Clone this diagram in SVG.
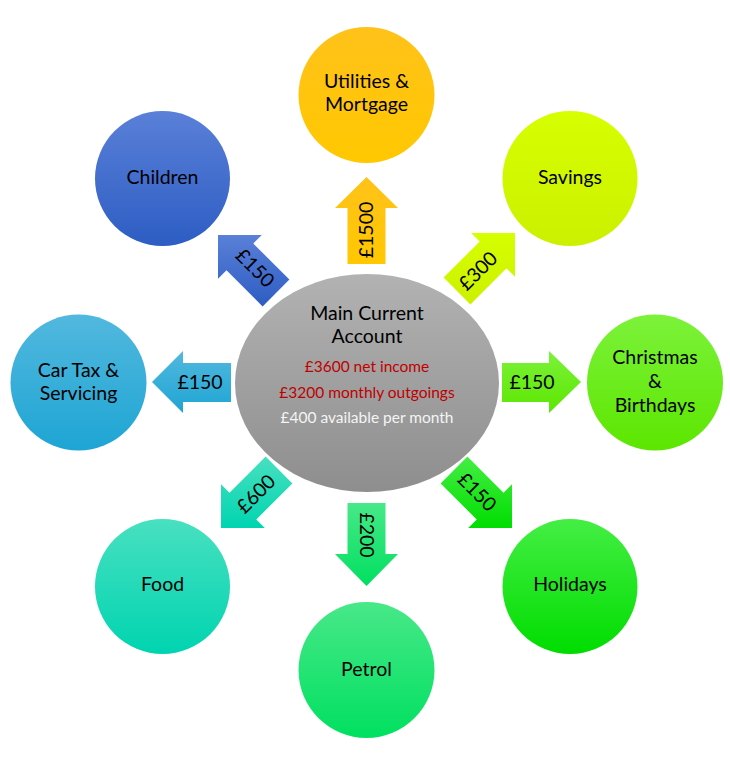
<svg xmlns="http://www.w3.org/2000/svg" width="730" height="760" viewBox="0 0 730 760">
<defs>
<linearGradient id="gUtil" x1="0" y1="0" x2="0" y2="1"><stop offset="0" stop-color="#FFC21A"/><stop offset="1" stop-color="#FFC800"/></linearGradient>
<linearGradient id="gChild" x1="0" y1="0" x2="0" y2="1"><stop offset="0" stop-color="#5A80D8"/><stop offset="1" stop-color="#2D5DC3"/></linearGradient>
<linearGradient id="gSave" x1="0" y1="0" x2="0" y2="1"><stop offset="0" stop-color="#D6FF00"/><stop offset="1" stop-color="#CCF000"/></linearGradient>
<linearGradient id="gXmas" x1="0" y1="0" x2="0" y2="1"><stop offset="0" stop-color="#7CF23A"/><stop offset="1" stop-color="#5CE600"/></linearGradient>
<linearGradient id="gHol" x1="0" y1="0" x2="0" y2="1"><stop offset="0" stop-color="#44EE44"/><stop offset="1" stop-color="#00DD00"/></linearGradient>
<linearGradient id="gPet" x1="0" y1="0" x2="0" y2="1"><stop offset="0" stop-color="#48E888"/><stop offset="1" stop-color="#00E060"/></linearGradient>
<linearGradient id="gFood" x1="0" y1="0" x2="0" y2="1"><stop offset="0" stop-color="#48E0C0"/><stop offset="1" stop-color="#00D4B0"/></linearGradient>
<linearGradient id="gCar" x1="0" y1="0" x2="0" y2="1"><stop offset="0" stop-color="#52B8DE"/><stop offset="1" stop-color="#1EA5D4"/></linearGradient>
<linearGradient id="gMain" x1="0" y1="0" x2="0" y2="1"><stop offset="0" stop-color="#B2B2B2"/><stop offset="1" stop-color="#8E8E8E"/></linearGradient>
</defs>
<style>
text{font-family:Lato,"Open Sans","Liberation Sans",sans-serif;text-anchor:middle;fill:#000}
.n{font-size:19.5px}
.a{font-size:19.5px}
.s{font-size:15.5px}
.red{fill:#C00000}
.wh{fill:#F4F4F4}
</style>
<g id="connectors">
<path d="M366.5,177 L398,208 L385.5,208 L385.5,264 L347.5,264 L347.5,208 L335,208 Z" fill="url(#gUtil)"/>
<path d="M366.5,586 L398,554 L385.5,554 L385.5,503 L347.5,503 L347.5,554 L335,554 Z" fill="url(#gPet)"/>
<path d="M152,382 L183,351 L183,363 L231,363 L231,402 L183,402 L183,413 Z" fill="url(#gCar)"/>
<path d="M581,382 L549,351 L549,363 L502,363 L502,402 L549,402 L549,413 Z" fill="url(#gXmas)"/>
<path d="M218,235 L261.8,235 L253.3,243.5 L289.4,279.6 L262.6,306.4 L226.5,270.3 L218,278.8 Z" fill="url(#gChild)"/>
<path d="M515,233 L471.2,233 L479.7,241.5 L443.6,277.6 L470.4,304.4 L506.5,268.3 L515,276.8 Z" fill="url(#gSave)"/>
<path d="M512,528 L468.2,528 L476.7,519.5 L440.6,483.4 L467.4,456.6 L503.5,492.7 L512,484.2 Z" fill="url(#gHol)"/>
<path d="M221,528 L264.8,528 L256.3,519.5 L292.4,483.4 L265.6,456.6 L229.5,492.7 L221,484.2 Z" fill="url(#gFood)"/>
<text class="a" transform="translate(366.5,230) rotate(-90)" dy="0.35em">£1500</text>
<text class="a" transform="translate(366.5,535) rotate(90)" dy="0.35em">£200</text>
<text class="a" x="200" y="382" dy="0.35em">£150</text>
<text class="a" x="532" y="382" dy="0.35em">£150</text>
<text class="a" transform="translate(255,268) rotate(45)" dy="0.35em">£150</text>
<text class="a" transform="translate(478,271) rotate(-45)" dy="0.35em">£300</text>
<text class="a" transform="translate(256,494) rotate(-45)" dy="0.35em">£600</text>
<text class="a" transform="translate(477,492) rotate(45)" dy="0.35em">£150</text>
</g>
<g id="main">
<ellipse cx="367" cy="383" rx="132" ry="109" fill="url(#gMain)"/>
<text class="n" x="367" y="320">Main Current</text>
<text class="n" x="367" y="343">Account</text>
<text class="s red" x="367" y="372">£3600 net income</text>
<text class="s red" x="367" y="398">£3200 monthly outgoings</text>
<text class="s wh" x="367" y="423">£400 available per month</text>
</g>
<g id="utilities">
<circle cx="366.5" cy="95" r="68" fill="url(#gUtil)"/>
<text class="n" x="366.5" y="88">Utilities &amp;</text>
<text class="n" x="366.5" y="111">Mortgage</text>
</g>
<g id="savings">
<circle cx="570" cy="178.5" r="67.5" fill="url(#gSave)"/>
<text class="n" x="570" y="184">Savings</text>
</g>
<g id="christmas">
<circle cx="655" cy="382.5" r="68" fill="url(#gXmas)"/>
<text class="n" x="655" y="364">Christmas</text>
<text class="n" x="655" y="388">&amp;</text>
<text class="n" x="655" y="412">Birthdays</text>
</g>
<g id="holidays">
<circle cx="570" cy="586.5" r="67.5" fill="url(#gHol)"/>
<text class="n" x="570" y="591">Holidays</text>
</g>
<g id="petrol">
<circle cx="366.5" cy="670" r="68" fill="url(#gPet)"/>
<text class="n" x="366.5" y="676">Petrol</text>
</g>
<g id="food">
<circle cx="162.5" cy="586.5" r="67.5" fill="url(#gFood)"/>
<text class="n" x="162.5" y="591">Food</text>
</g>
<g id="cartax">
<circle cx="78.5" cy="382.5" r="68" fill="url(#gCar)"/>
<text class="n" x="78.5" y="377">Car Tax &amp;</text>
<text class="n" x="78.5" y="400">Servicing</text>
</g>
<g id="children">
<circle cx="162.5" cy="178.5" r="67.5" fill="url(#gChild)"/>
<text class="n" x="162.5" y="184">Children</text>
</g>
</svg>
